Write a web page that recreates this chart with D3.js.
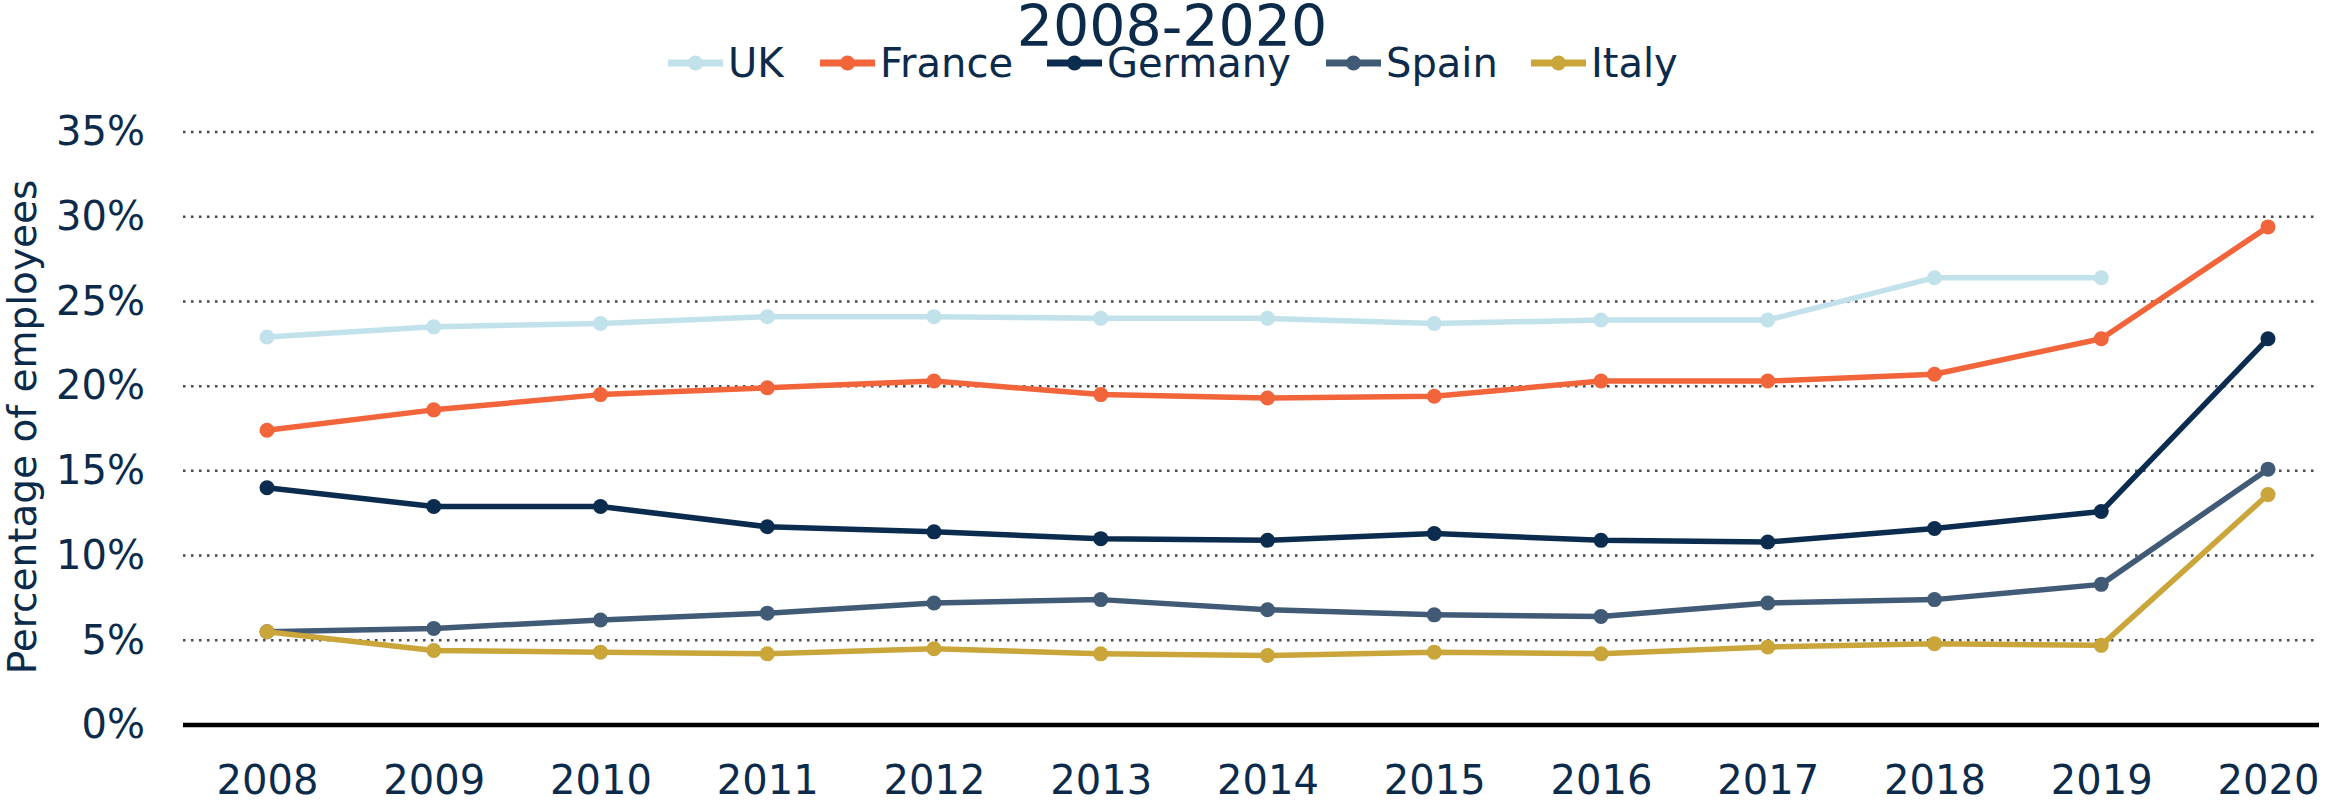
<!DOCTYPE html>
<html>
<head>
<meta charset="utf-8">
<script src="https://cdn.jsdelivr.net/npm/d3@7"></script>
<style>
  html, body { margin: 0; padding: 0; background: #ffffff; }
  svg { display: block; }
  text { font-family: "DejaVu Sans", Verdana, sans-serif; fill: #0c2b4b; }
</style>
</head>
<body>
<svg id="chart" width="2349" height="802"></svg>
<script>
const years = ["2008","2009","2010","2011","2012","2013","2014","2015","2016","2017","2018","2019","2020"];
const seriesNames = ["UK", "France", "Germany", "Spain", "Italy"];
const seriesColors = ["#c1e1eb", "#f2643a", "#0b2c4e", "#415a76", "#c9a53a"];
const ukValues      = [22.9, 23.5, 23.7, 24.1, 24.1, 24.0, 24.0, 23.7, 23.9, 23.9, 26.4, 26.4, null];
const franceValues  = [17.4, 18.6, 19.5, 19.9, 20.3, 19.5, 19.3, 19.4, 20.3, 20.3, 20.7, 22.8, 29.4];
const germanyValues = [14.0, 12.9, 12.9, 11.7, 11.4, 11.0, 10.9, 11.3, 10.9, 10.8, 11.6, 12.6, 22.8];
const spainValues   = [5.5, 5.7, 6.2, 6.6, 7.2, 7.4, 6.8, 6.5, 6.4, 7.2, 7.4, 8.3, 15.1];
const italyValues   = [5.5, 4.4, 4.3, 4.2, 4.5, 4.2, 4.1, 4.3, 4.2, 4.6, 4.8, 4.7, 13.6];
const yTicks = [0, 5, 10, 15, 20, 25, 30, 35];
const titleLine2 = "2008-2020";
const yAxisLabel = "Percentage of employees";

(function () {
const seriesValues = [ukValues, franceValues, germanyValues, spainValues, italyValues];
const series = seriesNames.map((name, i) => ({ name, color: seriesColors[i], values: seriesValues[i] }));

const svg = d3.select("#chart");
const mLeft = 183, mRight = 2319, mTop = 132, mBottom = 725;

const x = d3.scalePoint().domain(years).range([267, 2268]);
const y = d3.scaleLinear().domain([0, 35]).range([mBottom, mTop]);

// gridlines (dotted)
svg.append("g")
  .selectAll("line")
  .data(yTicks.filter(t => t > 0))
  .join("line")
  .attr("x1", mLeft).attr("x2", mRight)
  .attr("y1", d => y(d)).attr("y2", d => y(d))
  .attr("stroke", "#4a4a4a")
  .attr("stroke-width", 2.5)
  .attr("stroke-dasharray", "2.5,5.5");

// Y axis labels
const yAxis = d3.axisLeft(y).tickValues(yTicks).tickFormat(d => d + "%").tickSize(0).tickPadding(0);
const yG = svg.append("g").attr("transform", `translate(145,0)`).call(yAxis);
yG.select(".domain").remove();
yG.selectAll("text").attr("font-size", 40).attr("fill", "#0c2b4b")
  .style("font-family", "DejaVu Sans, Verdana, sans-serif");

// X axis
const xAxis = d3.axisBottom(x).tickSize(0).tickPadding(0);
const xG = svg.append("g").attr("transform", `translate(0,${mBottom})`).call(xAxis);
xG.select(".domain").remove();
xG.selectAll("text").attr("font-size", 40).attr("fill", "#0c2b4b").attr("dy", 0).attr("y", 69)
  .style("font-family", "DejaVu Sans, Verdana, sans-serif");

// baseline
svg.append("line")
  .attr("x1", mLeft).attr("x2", mRight)
  .attr("y1", y(0)).attr("y2", y(0))
  .attr("stroke", "#000").attr("stroke-width", 4.5);

// lines
const line = d3.line()
  .defined(d => d.v !== null)
  .x(d => x(d.year))
  .y(d => y(d.v));

const sG = svg.append("g").selectAll("g").data(series).join("g");
sG.append("path")
  .attr("d", s => line(s.values.map((v, i) => ({ year: years[i], v }))))
  .attr("fill", "none")
  .attr("stroke", s => s.color)
  .attr("stroke-width", 5.5)
  .attr("stroke-linejoin", "round");
sG.selectAll("circle")
  .data(s => s.values.map((v, i) => ({ year: years[i], v, color: s.color })).filter(d => d.v !== null))
  .join("circle")
  .attr("cx", d => x(d.year))
  .attr("cy", d => y(d.v))
  .attr("r", 7.5)
  .attr("fill", d => d.color);

// Y axis title
svg.append("text")
  .attr("transform", `translate(36,427) rotate(-90)`)
  .attr("text-anchor", "middle")
  .attr("font-size", 39)
  .text(yAxisLabel);

// Title (second line visible)
svg.append("text")
  .attr("x", 1172).attr("y", 46)
  .attr("text-anchor", "middle")
  .attr("font-size", 57)
  .text(titleLine2);

// Legend
const legendX = [668, 820, 1047, 1326, 1531];
const legendY = 63;
const lg = svg.append("g").selectAll("g").data(series).join("g")
  .attr("transform", (d, i) => `translate(${legendX[i]},${legendY})`);
lg.append("line").attr("x1", 0).attr("x2", 55).attr("y1", 0).attr("y2", 0)
  .attr("stroke", d => d.color).attr("stroke-width", 7);
lg.append("circle").attr("cx", 27.5).attr("cy", 0).attr("r", 7.5).attr("fill", d => d.color);
lg.append("text").attr("x", 60).attr("y", 0).attr("dy", "0.36em")
  .attr("font-size", 40).text(d => d.name);
})();
</script>
</body>
</html>
